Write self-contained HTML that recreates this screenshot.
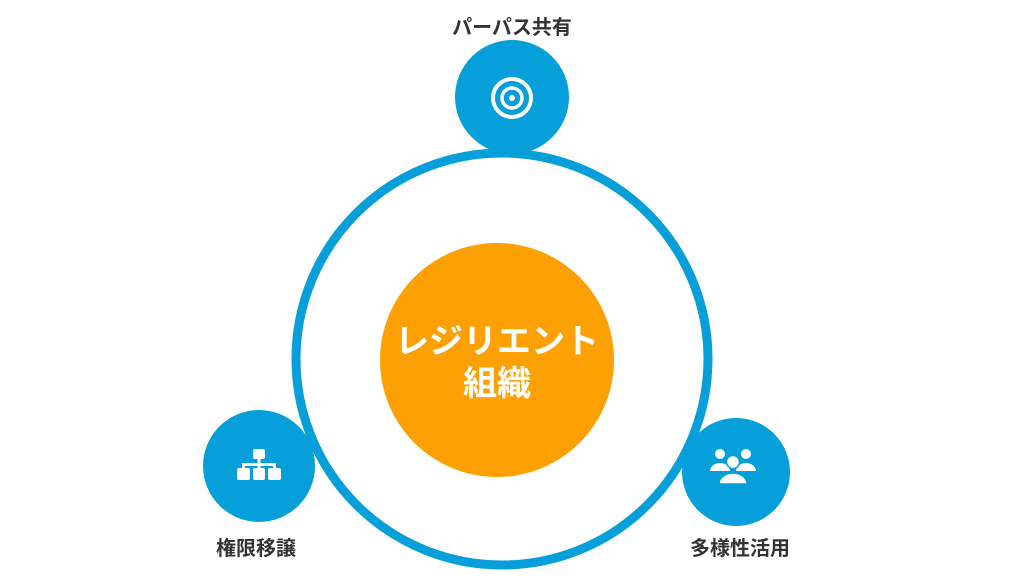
<!DOCTYPE html>
<html><head><meta charset="utf-8"><style>
body{margin:0;width:1024px;height:576px;background:#fff;overflow:hidden}
</style></head><body>
<svg width="1024" height="576" viewBox="0 0 1024 576" xmlns="http://www.w3.org/2000/svg" font-family="'Liberation Sans','Noto Sans CJK JP',sans-serif">
<circle cx="502" cy="359" r="206" fill="none" stroke="#069fd9" stroke-width="9"/>
<circle cx="497" cy="360" r="117" fill="#fca003"/>
<text x="497" y="353" text-anchor="middle" font-size="34" font-weight="bold" fill="#fff">レジリエント</text>
<text x="497" y="395" text-anchor="middle" font-size="34" font-weight="bold" fill="#fff">組織</text>
<circle cx="512" cy="97" r="57" fill="#069fd9"/>
<circle cx="512" cy="98" r="19" fill="none" stroke="#fff" stroke-width="4"/>
<circle cx="512" cy="98" r="10" fill="none" stroke="#fff" stroke-width="3.5"/>
<circle cx="512" cy="98" r="3" fill="#fff"/>
<circle cx="259" cy="466" r="56" fill="#069fd9"/>
<g fill="#fff">
<rect x="253" y="449" width="12" height="10" rx="2"/>
<rect x="257.5" y="459" width="3" height="5"/>
<rect x="242" y="463" width="34" height="3"/>
<rect x="242" y="463" width="3" height="6"/><rect x="257.5" y="463" width="3" height="6"/><rect x="273" y="463" width="3" height="6"/>
<rect x="237" y="468" width="13" height="12" rx="2"/>
<rect x="253" y="468" width="12" height="12" rx="2"/>
<rect x="268" y="468" width="13" height="12" rx="2"/>
</g>
<circle cx="736" cy="472" r="54" fill="#069fd9"/>
<g fill="#fff">
<circle cx="720" cy="454" r="5"/><circle cx="746" cy="454" r="5"/>
<path d="M710 471 a10 8 0 0 1 20 0z"/><path d="M736 471 a10 8 0 0 1 20 0z"/>
<circle cx="733" cy="462" r="6.5" stroke="#069fd9" stroke-width="1.5"/>
<path d="M719 484 a14 11 0 0 1 28 0z" stroke="#069fd9" stroke-width="1.5"/>
</g>
<text x="512" y="34" text-anchor="middle" font-size="20" font-weight="bold" fill="#333">パーパス共有</text>
<text x="256" y="555" text-anchor="middle" font-size="20" font-weight="bold" fill="#333">権限移譲</text>
<text x="740" y="555" text-anchor="middle" font-size="20" font-weight="bold" fill="#333">多様性活用</text>
</svg>
</body></html>
